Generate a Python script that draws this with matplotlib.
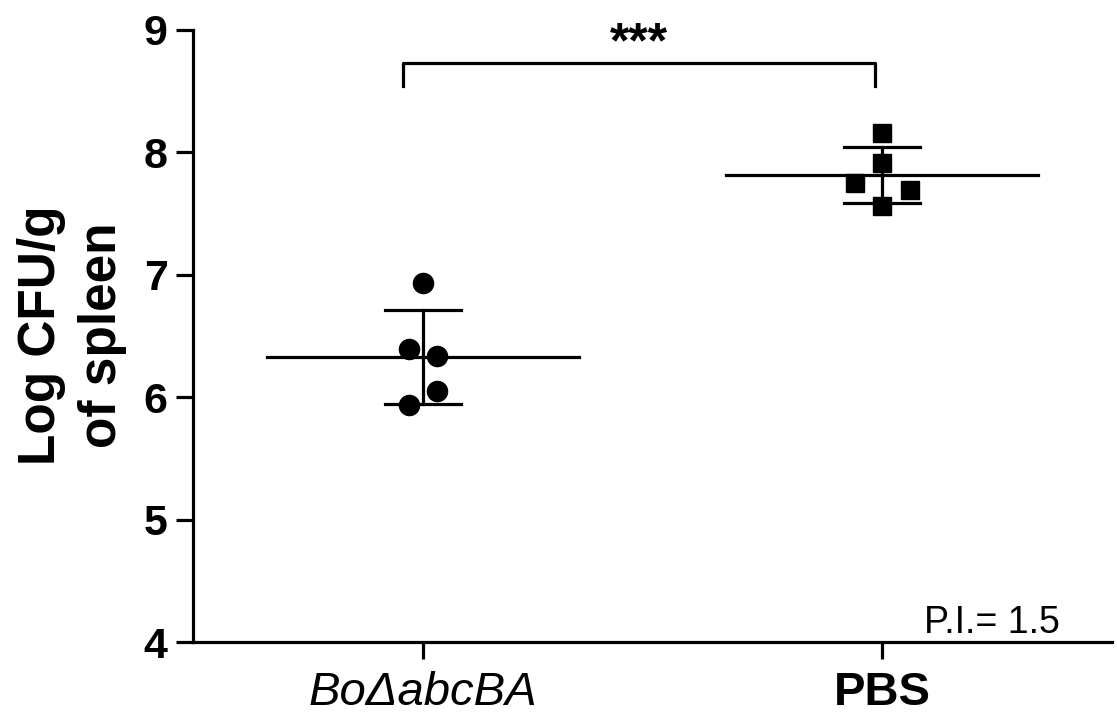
import numpy as np
import matplotlib
matplotlib.use("Agg")
import matplotlib.pyplot as plt

plt.rcParams['font.family'] = ['Liberation Sans', 'DejaVu Sans']

# data
groups = ["Bo\u0394abcBA", "PBS"]
mutant_cfu = [6.93, 6.39, 6.34, 6.05, 5.94]
pbs_cfu = [8.16, 7.91, 7.75, 7.69, 7.56]
mutant_jitter = [0.0, -0.03, 0.03, 0.03, -0.03]
pbs_jitter = [0.0, 0.0, -0.06, 0.06, 0.0]
y_ticks = [4, 5, 6, 7, 8, 9]
signif_label = "***"
pi_label = "P.I.= 1.5"

lw = 2.3
fig = plt.figure(figsize=(11.17, 7.17), dpi=100)
ax = fig.add_axes([0.1728, 0.1046, 0.9955 - 0.1728, 0.9582 - 0.1046])

series = [(mutant_cfu, mutant_jitter, "o", 14.5), (pbs_cfu, pbs_jitter, "s", 13.5)]
for i, (vals, jit, mk, ms) in enumerate(series):
    vals = np.array(vals)
    m = vals.mean()
    sd = vals.std(ddof=1)
    # mean line
    ax.plot([i - 0.34, i + 0.34], [m, m], color="black", lw=lw, zorder=2)
    # sd bar + caps
    ax.plot([i, i], [m - sd, m + sd], color="black", lw=lw, zorder=2)
    for y in (m - sd, m + sd):
        ax.plot([i - 0.083, i + 0.083], [y, y], color="black", lw=lw, zorder=2)
    ax.plot(i + np.array(jit), vals, linestyle="none", marker=mk,
            markersize=ms, color="black", zorder=3)

# significance bracket
bx0, bx1, btop, bleg = -0.044, 0.985, 8.73, 8.54
ax.plot([bx0, bx0, bx1, bx1], [bleg, btop, btop, bleg], color="black",
        lw=lw, clip_on=False)
ax.text((bx0 + bx1) / 2, 8.88, signif_label, ha="center", va="center",
        fontsize=36, fontweight="bold")

ax.text(1.386, 4.07, pi_label, ha="right", va="baseline", fontsize=27)

ax.set_xlim(-0.5, 1.5)
ax.set_ylim(4, 9)
ax.set_yticks(y_ticks)
ax.set_xticks([0, 1])
ax.set_xticklabels(groups)
for lab in ax.get_yticklabels():
    lab.set_fontsize(31)
    lab.set_fontweight("bold")
xl = ax.get_xticklabels()
xl[0].set_fontsize(34)
xl[0].set_fontstyle("italic")
xl[1].set_fontsize(34)
xl[1].set_fontweight("bold")

ax.tick_params(axis="both", direction="out", length=12.2, width=lw)
ax.tick_params(axis="y", pad=6)
ax.tick_params(axis="x", pad=9)
for s in ("top", "right"):
    ax.spines[s].set_visible(False)
for s in ("left", "bottom"):
    ax.spines[s].set_linewidth(lw)

ax.set_ylabel("Log CFU/g\nof spleen", fontsize=37, fontweight="bold",
              linespacing=1.3)
ax.yaxis.set_label_coords(-0.072, 0.502)

fig.savefig("out.png", dpi=100)
